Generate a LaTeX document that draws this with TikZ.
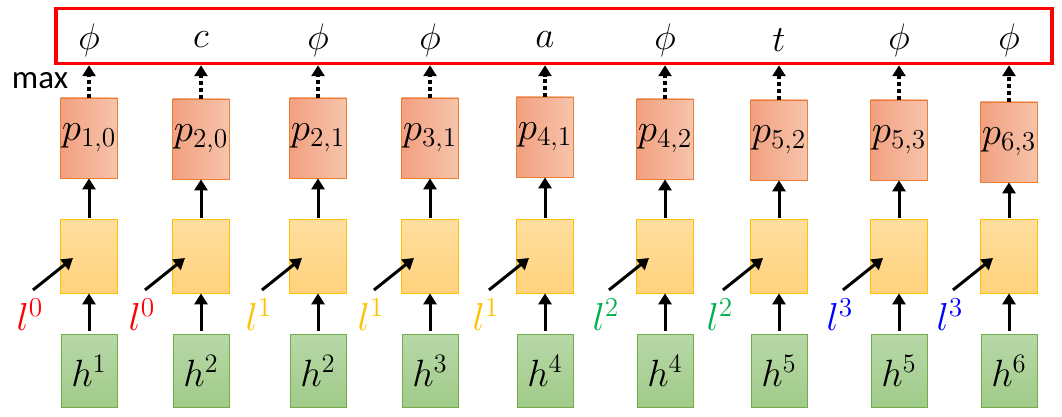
\documentclass[tikz,border=0pt]{standalone}
\usepackage{fix-cm}
\usepackage{graphicx}
\usepackage{fontspec}
\setsansfont{Carlito}
\usetikzlibrary{arrows.meta,calc}
\definecolor{redbox}{RGB}{255,0,0}
\definecolor{porange}{RGB}{237,125,49}
\definecolor{pleft}{RGB}{242,160,128}
\definecolor{pright}{RGB}{246,196,172}
\definecolor{yborder}{RGB}{255,192,0}
\definecolor{ytop}{RGB}{255,222,158}
\definecolor{ybot}{RGB}{255,210,125}
\definecolor{gborder}{RGB}{112,173,71}
\definecolor{gtop}{RGB}{184,216,168}
\definecolor{gbot}{RGB}{160,203,137}
\definecolor{lgold}{RGB}{255,192,0}
\definecolor{lgreen}{RGB}{0,176,80}
\definecolor{lblue}{RGB}{0,0,255}
\newcommand{\mymath}[2]{\scalebox{#1}{$#2$}}
\tikzset{
  pbox/.style={draw=porange, line width=0.8pt, left color=pleft, right color=pright,
    minimum width=57pt, minimum height=80pt, inner sep=0pt,
    font=\fontsize{20}{22}\selectfont},
  ybox/.style={draw=yborder, line width=0.8pt, top color=ytop, bottom color=ybot,
    minimum width=57pt, minimum height=74pt, inner sep=0pt},
  hbox/.style={draw=gborder, line width=0.8pt, top color=gtop, bottom color=gbot,
    minimum width=56pt, minimum height=73pt, inner sep=0pt,
    font=\fontsize{20}{22}\selectfont},
  outlbl/.style={font=\fontsize{20}{22}\selectfont, inner sep=0pt},
  llbl/.style={font=\fontsize{20}{22}\selectfont, inner sep=0pt},
  solidarr/.style={line width=3pt, -{Triangle[width=13pt,length=11pt]}},
  dotarr/.style={line width=4pt, dash pattern=on 4pt off 3pt, -{Triangle[width=13pt,length=11pt]}},
}
\begin{document}
\begin{tikzpicture}[x=1pt,y=-1pt]
\useasboundingbox (0,0) rectangle (1062,417);
\node[draw=redbox, line width=3.5pt, minimum width=996pt, minimum height=55pt, inner sep=0pt] (out) at (554,36) {};
\node[font=\sffamily\fontsize{33}{35}\selectfont, inner sep=0pt, anchor=center] (max) at (40,81) {max};
\foreach \i/\x/\py/\o/\p/\h/\l/\lc in {
  1/89/138/\phi/p_{1,0}/h^1/l^0/redbox,
  2/201/139/c/p_{2,0}/h^2/l^0/redbox,
  3/318/138/\phi/p_{2,1}/h^2/l^1/lgold,
  4/430/138/\phi/p_{3,1}/h^3/l^1/lgold,
  5/545/137/a/p_{4,1}/h^4/l^1/lgold,
  6/665/139/\phi/p_{4,2}/h^4/l^2/lgreen,
  7/779/140/t/p_{5,2}/h^5/l^2/lgreen,
  8/899/140/\phi/p_{5,3}/h^5/l^3/lblue,
  9/1009/142/\phi/p_{6,3}/h^6/l^3/lblue}{
  \node[outlbl] (o\i) at (\x,40) {\mymath{1.85}{\o}};
  \node[pbox] (p\i) at (\x,\py) {\mymath{1.95}{\p}};
  \node[ybox] (y\i) at (\x,256) {};
  \node[hbox] (h\i) at (\x,371) {\mymath{1.9}{\h}};
  \draw[solidarr] (h\i.north) ++(0,-3) -- (y\i.south);
  \draw[solidarr] (y\i.north) ++(0,-1) -- (p\i.south);
  \draw[dotarr] (p\i.north) -- (p\i.north |- out.south);
  \coordinate (ls\i) at ($(y\i.center)+(-56,34)$);
  \coordinate (le\i) at ($(y\i.center)+(-16,2)$);
  \draw[solidarr] (ls\i) -- (le\i);
  \node[llbl, text=\lc] (l\i) at ($(y\i.center)+(-59,59)$) {\mymath{1.95}{\l}};
}
\end{tikzpicture}
\end{document}
